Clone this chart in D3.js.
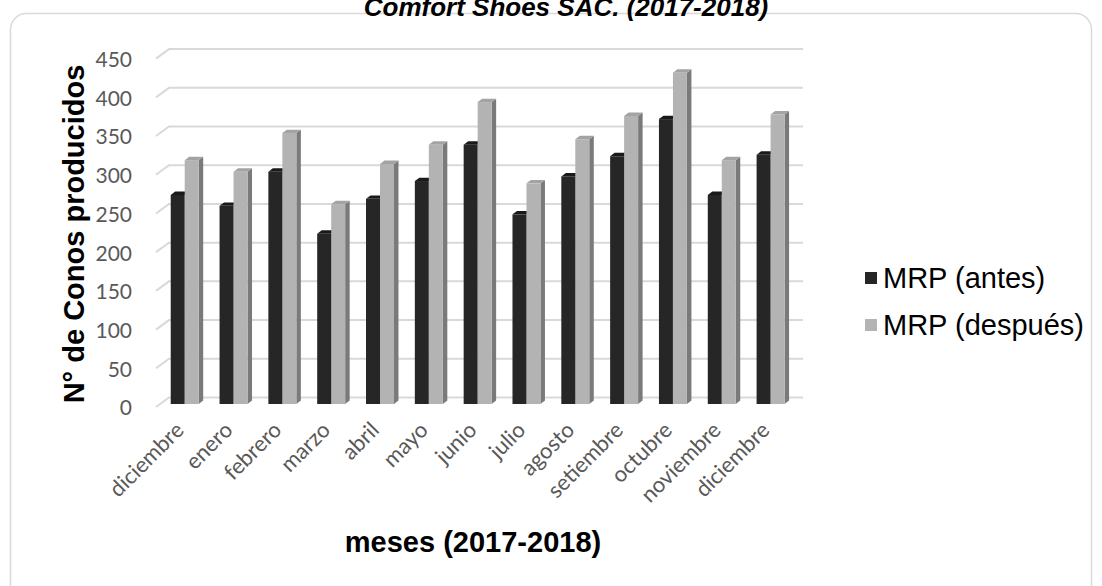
<!DOCTYPE html>
<html>
<head>
<meta charset="utf-8">
<script src="https://cdn.jsdelivr.net/npm/d3@7"></script>
<style>
  html, body { margin: 0; padding: 0; background: #fff; }
  svg { display: block; }
</style>
</head>
<body>
<div id="chart"></div>
<script>
// ---- data ----
const months = ["diciembre","enero","febrero","marzo","abril","mayo","junio","julio","agosto","setiembre","octubre","noviembre","diciembre"];
const antes   = [270, 256, 300, 220, 265, 288, 335, 245, 294, 320, 368, 270, 322];
const despues = [315, 300, 350, 258, 310, 335, 390, 285, 342, 372, 428, 315, 374];
const seriesNames = ["MRP (antes)", "MRP (después)"];
const yTicks = [0, 50, 100, 150, 200, 250, 300, 350, 400, 450];
const titleText = "Comfort Shoes SAC. (2017-2018)";
const xTitle = "meses (2017-2018)";
const yTitle = "N° de Conos producidos";

const W = 1102, H = 586;
const svg = d3.select("#chart").append("svg").attr("width", W).attr("height", H);

// chart border (its lower edge lies below the visible area)
svg.append("rect")
  .attr("x", 10.5).attr("y", 13.5).attr("width", 1081).attr("height", 600)
  .attr("rx", 16).attr("ry", 16)
  .attr("fill", "none").attr("stroke", "#d9d9d9").attr("stroke-width", 1.5);

// 3D offsets
const DX = 4.5, DY = -3.4;       // bar depth
const WX = 13, WY = -9.5;        // wall depth

const y = d3.scaleLinear().domain([0, 450]).range([404, 404 - 450 * 0.7742]);
const x0 = d3.scaleBand().domain(d3.range(months.length)).range([160.3, 795])
  .paddingInner(0.427).paddingOuter(0.2135);
const x1 = d3.scaleBand().domain([0, 1]).range([0, x0.bandwidth()]);

// gridlines (floor front at y+3, back wall at y+3+WY)
const grid = svg.append("g");
yTicks.forEach(v => {
  const fy = y(v) + 3, by = fy + WY;
  grid.append("path")
    .attr("d", `M156,${fy} L${156 + WX},${by} L803,${by}`)
    .attr("fill", "none").attr("stroke", "#d9d9d9").attr("stroke-width", 2);
});

// y tick labels
svg.append("g").selectAll("text").data(yTicks).join("text")
  .attr("x", 132).attr("y", d => y(d) + 4)
  .attr("dy", "0.35em")
  .attr("text-anchor", "end")
  .attr("font-family", "Lato, 'Open Sans', sans-serif")
  .attr("font-size", 21)
  .attr("fill", "#595959")
  .text(d => d);

// bars
const palettes = [
  { front: "#262626", top: "#1a1a1a", side: "#141414" },
  { front: "#b3b3b3", top: "#a3a3a3", side: "#7a7a7a" }
];
const data = [antes, despues];
const bars = svg.append("g");
months.forEach((m, i) => {
  [0, 1].forEach(s => {
    const v = data[s][i];
    const xl = x0(i) + x1(s), xr = xl + x1.bandwidth();
    const yt = y(v), yb = y(0);
    const p = palettes[s];
    const g = bars.append("g");
    g.append("path")
      .attr("d", `M${xr},${yt} L${xr + DX},${yt + DY} L${xr + DX},${yb + DY} L${xr},${yb} Z`)
      .attr("fill", p.side);
    g.append("path")
      .attr("d", `M${xl},${yt} L${xl + DX},${yt + DY} L${xr + DX},${yt + DY} L${xr},${yt} Z`)
      .attr("fill", p.top);
    g.append("rect")
      .attr("x", xl).attr("y", yt).attr("width", x1.bandwidth()).attr("height", yb - yt)
      .attr("fill", p.front);
  });
});

// month labels
svg.append("g").selectAll("text").data(months).join("text")
  .attr("transform", (d, i) => `translate(${x0(i) + x0.bandwidth() / 2 - 5},${426}) rotate(-45)`)
  .attr("text-anchor", "end")
  .attr("dy", "0.35em")
  .attr("font-family", "Lato, 'Open Sans', sans-serif")
  .attr("font-size", 22)
  .attr("fill", "#595959")
  .text(d => d);

// title
svg.append("text")
  .attr("x", 566).attr("y", 16)
  .attr("text-anchor", "middle")
  .attr("font-family", "'Liberation Sans', Arial, sans-serif")
  .attr("font-weight", "bold").attr("font-style", "italic")
  .attr("font-size", 26)
  .attr("fill", "#000")
  .text(titleText);

// axis titles
svg.append("text")
  .attr("x", 473).attr("y", 552)
  .attr("text-anchor", "middle")
  .attr("font-family", "'Liberation Sans', Arial, sans-serif")
  .attr("font-weight", "bold")
  .attr("font-size", 29)
  .attr("fill", "#000")
  .text(xTitle);

svg.append("text")
  .attr("transform", "translate(84,234) rotate(-90)")
  .attr("text-anchor", "middle")
  .attr("font-family", "'Liberation Sans', Arial, sans-serif")
  .attr("font-weight", "bold")
  .attr("font-size", 29)
  .attr("fill", "#000")
  .text(yTitle);

// legend
const legend = svg.append("g");
seriesNames.forEach((name, s) => {
  const ly = 278 + s * 47;
  legend.append("rect")
    .attr("x", 865).attr("y", ly - 6).attr("width", 12).attr("height", 12)
    .attr("fill", palettes[s].front);
  legend.append("text")
    .attr("x", 883).attr("y", ly).attr("dy", "0.35em")
    .attr("font-family", "'Liberation Sans', Arial, sans-serif")
    .attr("font-size", 29)
    .attr("fill", "#000")
    .text(name);
});
</script>
</body>
</html>
